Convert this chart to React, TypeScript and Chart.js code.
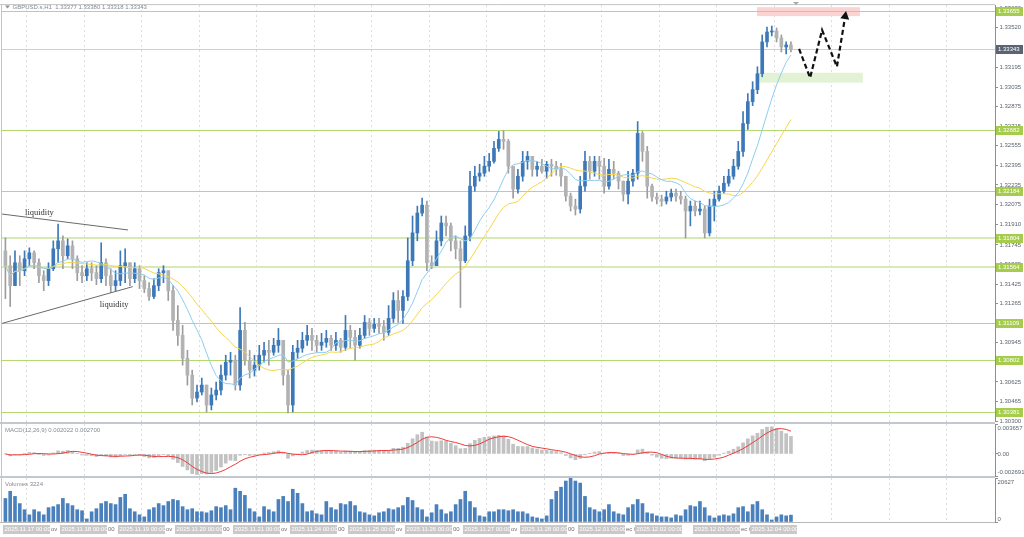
import React, { useEffect, useRef } from 'react';
import { Chart, registerables } from 'chart.js';

Chart.register(...registerables);

// ---------- DATA (2-hour bars) ----------
const FIRST_OPEN = 1.31696;

const CLOSE = [
  1.31575, 1.31412, 1.31599, 1.31534, 1.31631, 1.3168, 1.31599, 1.31493, 1.31453, 1.3155,
  1.31713, 1.31778, 1.31656, 1.31737, 1.31631, 1.31518, 1.31493, 1.3155, 1.31518, 1.31469,
  1.31599, 1.31493, 1.31412, 1.31453, 1.31575, 1.31599, 1.31469, 1.3155, 1.31453, 1.31388,
  1.31323, 1.31412, 1.31518, 1.31534, 1.31371, 1.31127, 1.31005, 1.30818, 1.3068, 1.30493,
  1.30542, 1.30599, 1.30436, 1.30518, 1.30558, 1.3068, 1.30786, 1.30802, 1.30599, 1.31046,
  1.30802, 1.30721, 1.30762, 1.30843, 1.30883, 1.30867, 1.30924, 1.30965, 1.3068, 1.30436,
  1.30867, 1.309, 1.30965, 1.31005, 1.30965, 1.30924, 1.30949, 1.30981, 1.30924, 1.30965,
  1.30908, 1.31046, 1.30989, 1.30924, 1.31005, 1.31111, 1.31062, 1.31095, 1.31079, 1.3103,
  1.31144, 1.3129, 1.31209, 1.31323, 1.31615, 1.31843, 1.32005, 1.3207, 1.31599, 1.31575,
  1.31778, 1.31924, 1.319, 1.31778, 1.31713, 1.31615, 1.31818, 1.32225, 1.32306, 1.32331,
  1.32388, 1.32428, 1.32534, 1.32607, 1.32591, 1.32388, 1.32201, 1.32306, 1.32428, 1.32469,
  1.32363, 1.32388, 1.32347, 1.32404, 1.32388, 1.32363, 1.32306, 1.32144, 1.32062, 1.32038,
  1.32225, 1.32428, 1.32347, 1.32428, 1.32388, 1.32225, 1.32363, 1.32331, 1.32266, 1.3216,
  1.32266, 1.32331, 1.32656, 1.32509, 1.32225, 1.32136, 1.32119, 1.32103, 1.32136, 1.32168,
  1.32144, 1.32119, 1.32022, 1.32062, 1.32022, 1.32038, 1.31843, 1.32062, 1.32119, 1.32184,
  1.32249, 1.32306, 1.32388, 1.32509, 1.32737, 1.32916, 1.33014, 1.33144, 1.33404, 1.33485,
  1.33493, 1.33436, 1.33363, 1.33379, 1.33343,
];

const HIGH = [
  1.31802, 1.31656, 1.31696, 1.31656, 1.31696, 1.31721, 1.31696, 1.31631, 1.31534, 1.31599,
  1.31778, 1.31916, 1.31818, 1.31794, 1.31778, 1.31656, 1.31575, 1.31599, 1.31599, 1.31575,
  1.31762, 1.31631, 1.3155, 1.31534, 1.31696, 1.31713, 1.31599, 1.31599, 1.31575, 1.31493,
  1.31436, 1.31469, 1.3155, 1.31575, 1.31534, 1.31412, 1.31249, 1.31087, 1.30883, 1.30721,
  1.30599, 1.30656, 1.30599, 1.30575, 1.30623, 1.30762, 1.30843, 1.30867, 1.30843, 1.31233,
  1.31111, 1.30883, 1.30843, 1.30924, 1.30949, 1.30965, 1.30981, 1.31062, 1.30965, 1.30721,
  1.30924, 1.30965, 1.3103, 1.31087, 1.31062, 1.31005, 1.31022, 1.31046, 1.31005, 1.3103,
  1.30981, 1.31168, 1.31087, 1.31046, 1.31062, 1.31168, 1.31144, 1.31144, 1.31144, 1.31127,
  1.31249, 1.31355, 1.31371, 1.31371, 1.31802, 1.31981, 1.32062, 1.32127, 1.32103, 1.31656,
  1.31859, 1.31981, 1.31981, 1.31924, 1.31818, 1.31778, 1.319, 1.32347, 1.32388, 1.32404,
  1.32469, 1.32493, 1.32591, 1.32672, 1.3268, 1.32607, 1.32388, 1.32363, 1.32509, 1.32509,
  1.32469, 1.32428, 1.32444, 1.32428, 1.32444, 1.32428, 1.32412, 1.32306, 1.32168, 1.32119,
  1.32306, 1.32509, 1.32469, 1.32469, 1.32469, 1.32453, 1.32444, 1.32428, 1.32347, 1.32266,
  1.32347, 1.32363, 1.32753, 1.32672, 1.3255, 1.32241, 1.32168, 1.32152, 1.32184, 1.32201,
  1.32201, 1.32184, 1.32144, 1.32103, 1.32103, 1.32103, 1.32062, 1.32119, 1.32184, 1.32225,
  1.32306, 1.32363, 1.32444, 1.32591, 1.32835, 1.32981, 1.33079, 1.33201, 1.33461, 1.33526,
  1.33534, 1.33518, 1.33461, 1.33404, 1.33404,
];

const LOW = [
  1.31306, 1.31241, 1.31412, 1.31412, 1.31493, 1.31575, 1.3155, 1.31436, 1.31371, 1.31412,
  1.31534, 1.31599, 1.3155, 1.31631, 1.3155, 1.31453, 1.31436, 1.31453, 1.31453, 1.3142,
  1.31436, 1.31412, 1.31355, 1.31371, 1.31412, 1.31436, 1.31412, 1.31436, 1.31388, 1.31355,
  1.3129, 1.31306, 1.31371, 1.31436, 1.3129, 1.31046, 1.30924, 1.30762, 1.30599, 1.30436,
  1.30461, 1.30518, 1.30379, 1.30396, 1.30477, 1.30518, 1.3064, 1.3068, 1.30558, 1.30558,
  1.30762, 1.30656, 1.30672, 1.30721, 1.30786, 1.30762, 1.30843, 1.30867, 1.30599, 1.30371,
  1.30379, 1.30818, 1.30867, 1.30924, 1.30883, 1.30867, 1.30883, 1.30908, 1.30883, 1.30883,
  1.30867, 1.30883, 1.309, 1.30802, 1.309, 1.30981, 1.31005, 1.3103, 1.31022, 1.30965,
  1.31005, 1.31111, 1.31111, 1.31103, 1.3129, 1.31575, 1.31778, 1.31981, 1.31534, 1.3155,
  1.31599, 1.31737, 1.31818, 1.31696, 1.31631, 1.31233, 1.31599, 1.31778, 1.32184, 1.32266,
  1.32306, 1.32347, 1.32412, 1.32509, 1.32526, 1.32331, 1.32127, 1.32168, 1.32266, 1.32363,
  1.32306, 1.32306, 1.32331, 1.3229, 1.32306, 1.32314, 1.32225, 1.32103, 1.32022, 1.31989,
  1.32005, 1.32184, 1.32282, 1.32306, 1.32282, 1.32168, 1.32201, 1.32282, 1.32201, 1.32103,
  1.32079, 1.32225, 1.32282, 1.32428, 1.32127, 1.32103, 1.32079, 1.32062, 1.32079, 1.32103,
  1.32103, 1.32079, 1.31802, 1.319, 1.31981, 1.31989, 1.31802, 1.31818, 1.3194, 1.32103,
  1.32168, 1.32225, 1.32282, 1.32363, 1.32469, 1.32688, 1.32883, 1.32981, 1.33119, 1.33363,
  1.33453, 1.33404, 1.33322, 1.33306, 1.33322,
];

const VOLUME = [
  11040, 14400, 12000, 8640, 5760, 3360, 5760, 4800, 3360, 6720,
  7200, 8160, 11040, 8640, 7680, 5760, 5280, 1440, 4800, 6240,
  8640, 9600, 8640, 8160, 11520, 12960, 6240, 4800, 3360, 2400,
  5760, 6720, 8640, 7680, 9600, 10560, 10080, 7200, 5760, 6240,
  4800, 4800, 4320, 5280, 7200, 6720, 7680, 5760, 15840, 14400,
  12480, 6240, 4800, 2400, 7200, 5760, 4800, 10560, 12000, 9600,
  15360, 13440, 8640, 4800, 5280, 3840, 3360, 9600, 6720, 5760,
  8640, 8160, 9600, 7680, 4800, 4320, 3360, 2880, 4320, 4800,
  6240, 5760, 6720, 7680, 11520, 10080, 6720, 5760, 2400, 4320,
  8160, 5760, 3840, 4800, 8160, 10560, 14400, 9600, 6720, 2880,
  2400, 4800, 4800, 5760, 5760, 5280, 5760, 4800, 4800, 3840,
  2400, 1920, 1440, 2880, 10560, 14400, 16320, 19200, 20627, 19200,
  18240, 12000, 6720, 5760, 4800, 5760, 8160, 4800, 3840, 3360,
  6720, 8160, 10560, 8640, 4320, 3840, 2880, 2400, 2400, 1920,
  3360, 2880, 5760, 7680, 7200, 9600, 6720, 2880, 1920, 2880,
  3360, 2880, 3840, 6720, 7200, 4800, 8160, 9600, 5760, 3360,
  960, 2400, 3360, 2880, 3224,
];

const PRICE_TICKS = [
  1.3368, 1.3352, 1.33355, 1.33195, 1.33035, 1.32875, 1.32715, 1.32555, 1.32395, 1.32235, 1.32075,
  1.3191, 1.31745, 1.31585, 1.31425, 1.31265, 1.311, 1.30945, 1.30785, 1.30625, 1.30465, 1.303,
];
const LEVELS = [1.33655, 1.32682, 1.32184, 1.31804, 1.31564, 1.31109, 1.30802, 1.30381];
const WIDE_LEVELS = [1.31804, 1.31564];
const CURRENT_PRICE = 1.33343;

const MACD_TICKS = [0.003657, 0, -0.002691];
const MACD_TICK_LABELS = ['0.003657', '0.00', '-0.002691'];
const VOLUME_TICKS = [20627, 0];
const VOLUME_TICK_LABELS = ['20627', '0'];

const DATE_LABELS = [
  '2025.11.17 00:00', '2025.11.18 00:00', '2025.11.19 00:00', '2025.11.20 00:00', '2025.11.21 00:00',
  '2025.11.24 00:00', '2025.11.25 00:00', '2025.11.26 00:00', '2025.11.27 00:00', '2025.11.28 00:00',
  '2025.12.01 00:00', '2025.12.02 00:00', '2025.12.03 00:00', '2025.12.04 00:00',
];
const DATE_TAILS = ['ov', '00', 'ov', '00', 'ov', '00', 'ov', '00', 'ov', '00', 'ec 0', '', 'ec 0', ''];

const HEADER = 'GBPUSD.s,H1  1.33377 1.33380 1.33318 1.33343';
const MACD_TITLE = 'MACD(12,26,9) 0.002022 0.002700';
const VOLUME_TITLE = 'Volumes 3224';
const LIQUIDITY = 'liquidity';

// annotation anchors (bar index, price)
const RESIST_ZONE = { x0: 156.9, x1: 178.4, p0: 1.33615, p1: 1.33688 };
const SUPPORT_ZONE = { x0: 156.9, x1: 179.0, p0: 1.33071, p1: 1.33152 };
const PATH_X = [165.7, 168.0, 170.5, 173.6, 175.5];
const PATH_P = [1.33347, 1.33111, 1.33501, 1.33201, 1.33656];
const LIQ_TOP_X = [-0.7, 25.6];
const LIQ_TOP_P = [1.31997, 1.31867];
const LIQ_TOP_TEXT = { x: 4.1, p: 1.32005 };
const LIQ_BOT_X = [-0.7, 26.6];
const LIQ_BOT_P = [1.31103, 1.31404];
const LIQ_BOT_TEXT = { x: 19.7, p: 1.31258 };

const BARS_PER_DAY = 12;
const X_MIN = -0.71;
const X_MAX = 206.6;
const Y_MIN = 1.30298;
const Y_MAX = 1.33705;

// ---------- styling ----------
const FONT = '"Liberation Sans", Arial, sans-serif';
const AXIS = '#8a8f96';
const LABEL = '#5c6470';
const BULL = '#3d79b8';
const BEAR = '#b2b2b2';
const BEAR_WICK = '#9c9c9c';
const LEVEL = '#b4d872';
const LEVEL_WIDE = '#d6e9b6';
const TAG = '#a6cc4e';

// ---------- derived indicator series ----------
const OPEN = CLOSE.map((_, i) => (i === 0 ? FIRST_OPEN : CLOSE[i - 1]));
const HI = HIGH.map((h, i) => Math.max(h, OPEN[i], CLOSE[i]));
const LO = LOW.map((l, i) => Math.min(l, OPEN[i], CLOSE[i]));

function sma(vals: number[], n: number) {
  return vals.map((_, i) => {
    const s = Math.max(0, i - n + 1);
    let sum = 0;
    for (let k = s; k <= i; k++) sum += vals[k];
    return sum / (i - s + 1);
  });
}
function ema(vals: number[], n: number) {
  const a = 2 / (n + 1);
  const out: number[] = [];
  vals.forEach((v, i) => out.push(i === 0 ? v : a * v + (1 - a) * out[i - 1]));
  return out;
}
// H1 periods halved for 2-hour bars
const MA_FAST = sma(CLOSE, 10);
const MA_SLOW = sma(CLOSE, 20);
const E_FAST = ema(CLOSE, 6);
const E_SLOW = ema(CLOSE, 13);
const MACD = E_FAST.map((v, i) => v - E_SLOW[i]);
const SIGNAL = sma(MACD, 5);

const GRID_X: number[] = [];
for (let v = 4.5; v < X_MAX; v += BARS_PER_DAY) GRID_X.push(v);

const xScale = () => ({
  type: 'linear',
  min: X_MIN,
  max: X_MAX,
  offset: false,
  ticks: { display: false },
  grid: { color: '#dcdcdc', lineWidth: 1, drawTicks: false, offset: false },
  border: { display: false, dash: [2, 3] },
  afterBuildTicks: (s: any) => {
    s.ticks = GRID_X.map((v) => ({ value: v }));
  },
  afterFit: (s: any) => {
    s.height = 0;
  },
});

const subY = (min: number, max: number, ticks: number[]) => ({
  type: 'linear',
  position: 'right',
  min,
  max,
  ticks: { display: false },
  grid: { drawOnChartArea: false, drawTicks: true, tickLength: 3, color: AXIS },
  border: { color: AXIS },
  afterBuildTicks: (s: any) => {
    s.ticks = ticks.map((v) => ({ value: v }));
  },
  afterFit: (s: any) => {
    s.width = 29;
  },
});

function text(ctx: CanvasRenderingContext2D, t: string, x: number, y: number, color: string, size = 6, family = FONT) {
  ctx.font = `${size}px ${family}`;
  ctx.fillStyle = color;
  ctx.textBaseline = 'middle';
  ctx.textAlign = 'left';
  ctx.fillText(t, x, y);
}

function frame(ctx: CanvasRenderingContext2D, a: any, topLine: boolean) {
  ctx.save();
  ctx.strokeStyle = '#c4c4c4';
  ctx.lineWidth = 1;
  ctx.beginPath();
  ctx.moveTo(1.5, a.top - 1);
  ctx.lineTo(1.5, a.bottom + 1);
  ctx.stroke();
  if (topLine) {
    ctx.beginPath();
    ctx.moveTo(0, a.top - 0.5);
    ctx.lineTo(a.right, a.top - 0.5);
    ctx.stroke();
  }
  ctx.restore();
}

function separator(ctx: CanvasRenderingContext2D, a: any) {
  ctx.save();
  ctx.fillStyle = '#c3c8ce';
  ctx.fillRect(0, a.top - 2, a.right, 2);
  ctx.restore();
}

const mainPlugin = {
  id: 'mainOverlay',
  beforeDatasetsDraw(chart: any) {
    const { ctx, chartArea: a, scales } = chart;
    const x = scales.x;
    const y = scales.y;
    ctx.save();
    ctx.beginPath();
    ctx.rect(a.left, a.top, a.right - a.left, a.bottom - a.top);
    ctx.clip();
    const zone = (z: any, color: string) => {
      const x0 = x.getPixelForValue(z.x0);
      const x1 = x.getPixelForValue(z.x1);
      const y0 = y.getPixelForValue(z.p1);
      const y1 = y.getPixelForValue(z.p0);
      ctx.fillStyle = color;
      ctx.fillRect(x0, y0, x1 - x0, y1 - y0);
    };
    zone(RESIST_ZONE, '#fbd3d3');
    zone(SUPPORT_ZONE, '#e2f3d5');
    const cp = Math.round(y.getPixelForValue(CURRENT_PRICE)) + 0.5;
    ctx.strokeStyle = '#cfcfcf';
    ctx.lineWidth = 1;
    ctx.beginPath();
    ctx.moveTo(a.left, cp);
    ctx.lineTo(a.right, cp);
    ctx.stroke();
    LEVELS.forEach((lv) => {
      const wide = WIDE_LEVELS.includes(lv);
      const py = Math.round(y.getPixelForValue(lv)) + (wide ? 0 : 0.5);
      ctx.strokeStyle = wide ? LEVEL_WIDE : LEVEL;
      ctx.lineWidth = wide ? 2 : 1;
      ctx.beginPath();
      ctx.moveTo(0, py);
      ctx.lineTo(a.right, py);
      ctx.stroke();
    });
    ctx.restore();
  },
  afterDatasetsDraw(chart: any) {
    const { ctx, chartArea: a, scales } = chart;
    const x = scales.x;
    const y = scales.y;
    ctx.save();
    ctx.beginPath();
    ctx.rect(0, a.top, a.right, a.bottom - a.top);
    ctx.clip();
    ctx.strokeStyle = '#6a6a6a';
    ctx.lineWidth = 1;
    [[LIQ_TOP_X, LIQ_TOP_P], [LIQ_BOT_X, LIQ_BOT_P]].forEach(([xs, ps]) => {
      ctx.beginPath();
      ctx.moveTo(x.getPixelForValue(xs[0]), y.getPixelForValue(ps[0]));
      ctx.lineTo(x.getPixelForValue(xs[1]), y.getPixelForValue(ps[1]));
      ctx.stroke();
    });
    const serif = '"Liberation Serif", "Times New Roman", serif';
    text(ctx, LIQUIDITY, x.getPixelForValue(LIQ_TOP_TEXT.x), y.getPixelForValue(LIQ_TOP_TEXT.p), '#333333', 8.5, serif);
    text(ctx, LIQUIDITY, x.getPixelForValue(LIQ_BOT_TEXT.x), y.getPixelForValue(LIQ_BOT_TEXT.p), '#333333', 8.5, serif);
    const pts = PATH_X.map((v, k) => [x.getPixelForValue(v), y.getPixelForValue(PATH_P[k])]);
    const n = pts.length;
    const [tx, ty] = pts[n - 1];
    const [px, py] = pts[n - 2];
    const ang = Math.atan2(ty - py, tx - px);
    const headLen = 8;
    const bx = tx - Math.cos(ang) * headLen;
    const by = ty - Math.sin(ang) * headLen;
    ctx.strokeStyle = '#111111';
    ctx.lineWidth = 2.2;
    ctx.setLineDash([5, 3]);
    ctx.beginPath();
    ctx.moveTo(pts[0][0], pts[0][1]);
    for (let k = 1; k < n - 1; k++) ctx.lineTo(pts[k][0], pts[k][1]);
    ctx.lineTo(bx, by);
    ctx.stroke();
    ctx.setLineDash([]);
    ctx.fillStyle = '#111111';
    ctx.beginPath();
    ctx.moveTo(tx, ty);
    ctx.lineTo(bx + Math.cos(ang + Math.PI / 2) * 4.5, by + Math.sin(ang + Math.PI / 2) * 4.5);
    ctx.lineTo(bx + Math.cos(ang - Math.PI / 2) * 4.5, by + Math.sin(ang - Math.PI / 2) * 4.5);
    ctx.closePath();
    ctx.fill();
    ctx.restore();
  },
  afterDraw(chart: any) {
    const { ctx, chartArea: a, scales } = chart;
    const y = scales.y;
    ctx.save();
    frame(ctx, a, true);
    const tag = (p: number, bg: string) => {
      const py = Math.round(y.getPixelForValue(p));
      ctx.fillStyle = bg;
      ctx.fillRect(a.right + 1, py - 4, 27, 9);
      text(ctx, p.toFixed(5), a.right + 3, py + 0.5, '#ffffff', 6);
    };
    LEVELS.forEach((lv) => tag(lv, TAG));
    tag(CURRENT_PRICE, '#5b6473');
    ctx.fillStyle = '#8a94a2';
    ctx.beginPath();
    ctx.moveTo(5, 5.5);
    ctx.lineTo(10, 5.5);
    ctx.lineTo(7.5, 8.5);
    ctx.closePath();
    ctx.fill();
    text(ctx, HEADER, 12.5, 7.5, '#7f8896', 6);
    ctx.fillStyle = '#a8a8a8';
    ctx.beginPath();
    ctx.moveTo(793, 2);
    ctx.lineTo(799, 2);
    ctx.lineTo(796, 5);
    ctx.closePath();
    ctx.fill();
    ctx.restore();
  },
};

const macdPlugin = {
  id: 'macdOverlay',
  beforeDraw(chart: any) {
    separator(chart.ctx, chart.chartArea);
  },
  afterDraw(chart: any) {
    const { ctx, chartArea: a, scales } = chart;
    ctx.save();
    frame(ctx, a, false);
    text(ctx, MACD_TITLE, 5, a.top + 6, '#858b94', 6);
    MACD_TICKS.forEach((v, k) => {
      let py = scales.y.getPixelForValue(v);
      py = Math.min(Math.max(py, a.top + 4), a.bottom - 4);
      text(ctx, MACD_TICK_LABELS[k], a.right + 2.5, py, LABEL, 6);
    });
    ctx.restore();
  },
};

const volumePlugin = {
  id: 'volumeOverlay',
  beforeDraw(chart: any) {
    separator(chart.ctx, chart.chartArea);
  },
  afterDraw(chart: any) {
    const { ctx, chartArea: a, scales } = chart;
    ctx.save();
    frame(ctx, a, false);
    ctx.strokeStyle = '#b8b8b8';
    ctx.beginPath();
    ctx.moveTo(0, a.bottom + 0.5);
    ctx.lineTo(a.right, a.bottom + 0.5);
    ctx.stroke();
    text(ctx, VOLUME_TITLE, 5, a.top + 6, '#858b94', 6);
    VOLUME_TICKS.forEach((v, k) => {
      let py = scales.y.getPixelForValue(v);
      py = Math.min(Math.max(py, a.top + 4), a.bottom - 3);
      text(ctx, VOLUME_TICK_LABELS[k], a.right + 2.5, py, LABEL, 6);
    });
    const top = a.bottom + 3;
    const lefts = DATE_LABELS.map((_, k) => Math.round(scales.x.getPixelForValue(k * BARS_PER_DAY - 0.5)));
    DATE_TAILS.forEach((t, k) => {
      if (t) text(ctx, t, lefts[k] + 48, top + 4.5, '#6f6f6f', 6);
    });
    DATE_LABELS.forEach((t, k) => {
      ctx.fillStyle = '#c9c9c9';
      ctx.fillRect(lefts[k], top, 47, 9);
      text(ctx, t, lefts[k] + 1.5, top + 4.5, '#ffffff', 6);
    });
    ctx.restore();
  },
};

const baseOptions = (padding: any) => ({
  animation: false,
  responsive: false,
  maintainAspectRatio: false,
  events: [],
  layout: { padding },
  plugins: { legend: { display: false }, tooltip: { enabled: false } },
});

export default function App() {
  const mainRef = useRef<HTMLCanvasElement>(null);
  const macdRef = useRef<HTMLCanvasElement>(null);
  const volRef = useRef<HTMLCanvasElement>(null);

  useEffect(() => {
    const bull = CLOSE.map((c, i) => c >= OPEN[i]);
    const main = new Chart(mainRef.current as HTMLCanvasElement, {
      type: 'bar',
      data: {
        datasets: [
          {
            type: 'line',
            data: MA_FAST.map((v, i) => ({ x: i, y: v })),
            borderColor: '#8ccdf0',
            borderWidth: 1,
            pointRadius: 0,
            tension: 0,
          },
          {
            type: 'line',
            data: MA_SLOW.map((v, i) => ({ x: i, y: v })),
            borderColor: '#f6d64a',
            borderWidth: 1,
            pointRadius: 0,
            tension: 0,
          },
          {
            type: 'bar',
            data: CLOSE.map((c, i) => ({ x: i, y: [OPEN[i], c] })),
            backgroundColor: bull.map((b) => (b ? BULL : BEAR)),
            borderWidth: 0,
            barThickness: 3,
            minBarLength: 1,
            grouped: false,
          },
          {
            type: 'bar',
            data: HI.map((h, i) => ({ x: i, y: [LO[i], h] })),
            backgroundColor: bull.map((b) => (b ? BULL : BEAR_WICK)),
            borderWidth: 0,
            barThickness: 1,
            grouped: false,
          },
        ],
      } as any,
      options: {
        ...baseOptions({ left: 2, top: 3, right: 0, bottom: 5 }),
        scales: {
          x: xScale(),
          y: {
            type: 'linear',
            position: 'right',
            min: Y_MIN,
            max: Y_MAX,
            ticks: {
              autoSkip: false,
              padding: 1.5,
              color: LABEL,
              font: { family: FONT, size: 6 },
              callback: (v: any) => Number(v).toFixed(5),
            },
            grid: { drawOnChartArea: false, drawTicks: true, tickLength: 3, color: AXIS },
            border: { color: AXIS },
            afterBuildTicks: (s: any) => {
              s.ticks = PRICE_TICKS.map((v) => ({ value: v }));
            },
            afterFit: (s: any) => {
              s.width = 29;
            },
          },
        },
      } as any,
      plugins: [mainPlugin],
    });

    const macd = new Chart(macdRef.current as HTMLCanvasElement, {
      type: 'bar',
      data: {
        datasets: [
          {
            type: 'line',
            data: SIGNAL.map((v, i) => ({ x: i, y: v })),
            borderColor: '#ee3b3b',
            borderWidth: 1,
            pointRadius: 0,
          },
          {
            type: 'bar',
            data: MACD.map((v, i) => ({ x: i, y: v })),
            backgroundColor: '#c2c2c2',
            borderWidth: 0,
            barThickness: 3,
            grouped: false,
          },
        ],
      } as any,
      options: {
        ...baseOptions({ left: 2, top: 2, right: 0, bottom: 2 }),
        scales: { x: xScale(), y: subY(MACD_TICKS[2], MACD_TICKS[0], MACD_TICKS) },
      } as any,
      plugins: [macdPlugin],
    });

    const vol = new Chart(volRef.current as HTMLCanvasElement, {
      type: 'bar',
      data: {
        datasets: [
          {
            type: 'bar',
            data: VOLUME.map((v, i) => ({ x: i, y: v })),
            backgroundColor: '#4a81bd',
            borderWidth: 0,
            barThickness: 3,
            grouped: false,
          },
        ],
      } as any,
      options: {
        ...baseOptions({ left: 2, top: 2, right: 0, bottom: 15 }),
        scales: { x: xScale(), y: subY(0, VOLUME_TICKS[0], VOLUME_TICKS) },
      } as any,
      plugins: [volumePlugin],
    });

    return () => {
      main.destroy();
      macd.destroy();
      vol.destroy();
    };
  }, []);

  const cv = (top: number, height: number) => ({
    position: 'absolute' as const,
    left: 0,
    top,
    width: 1024,
    height,
  });

  return (
    <div style={{ position: 'fixed', left: 0, top: 0, width: 1024, height: 537, background: '#ffffff', overflow: 'hidden' }}>
      <canvas ref={mainRef} width={1024} height={427} style={cv(0, 427)} />
      <canvas ref={macdRef} width={1024} height={56} style={cv(422, 56)} />
      <canvas ref={volRef} width={1024} height={61} style={cv(476, 61)} />
    </div>
  );
}
